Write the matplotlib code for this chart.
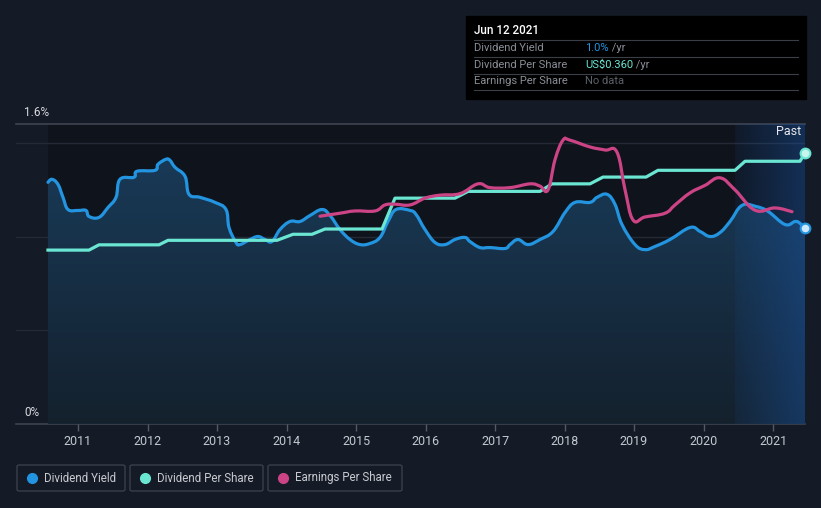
import numpy as np
import matplotlib
matplotlib.use('Agg')
import matplotlib.pyplot as plt
from matplotlib.patches import Rectangle, FancyBboxPatch, Polygon, PathPatch
from matplotlib.path import Path

plt.rcParams['font.family'] = ['Roboto', 'DejaVu Sans']

# --- data
yield_years = [2010.568, 2010.626, 2010.712, 2010.784, 2010.856, 2011.000, 2011.115, 2011.158,
               2011.302, 2011.432, 2011.547, 2011.604, 2011.806, 2011.849, 2012.108, 2012.151,
               2012.266, 2012.324, 2012.396, 2012.540, 2012.597, 2012.755, 2012.971, 2013.129,
               2013.173, 2013.273, 2013.331, 2013.475, 2013.590, 2013.691, 2013.791, 2013.906,
               2014.050, 2014.194, 2014.338, 2014.511, 2014.626, 2014.770, 2014.914, 2015.058,
               2015.201, 2015.345, 2015.460, 2015.576, 2015.777, 2015.863, 2015.993, 2016.137,
               2016.281, 2016.424, 2016.568, 2016.640, 2016.784, 2016.928, 2017.144, 2017.216,
               2017.331, 2017.475, 2017.647, 2017.835, 2018.007, 2018.151, 2018.367, 2018.468,
               2018.612, 2018.727, 2018.827, 2019.014, 2019.158, 2019.302, 2019.518, 2019.806,
               2019.950, 2020.094, 2020.237, 2020.381, 2020.554, 2020.755, 2020.928, 2021.173,
               2021.317, 2021.388, 2021.460]
div_yield = [1.289, 1.305, 1.278, 1.209, 1.144, 1.139, 1.139, 1.107,
             1.102, 1.155, 1.209, 1.305, 1.316, 1.348, 1.353, 1.385,
             1.412, 1.406, 1.369, 1.321, 1.225, 1.209, 1.182, 1.144,
             1.048, 0.968, 0.957, 0.984, 1.000, 0.984, 0.973, 1.037,
             1.080, 1.080, 1.112, 1.144, 1.112, 1.037, 0.984, 0.957,
             0.963, 0.995, 1.080, 1.144, 1.139, 1.118, 1.037, 0.968,
             0.957, 0.984, 0.995, 0.973, 0.941, 0.941, 0.936, 0.957,
             0.984, 0.957, 0.984, 1.027, 1.128, 1.182, 1.182, 1.209,
             1.225, 1.171, 1.064, 0.957, 0.930, 0.947, 0.984, 1.048,
             1.027, 1.000, 1.021, 1.080, 1.166, 1.160, 1.134, 1.064,
             1.080, 1.070, 1.043]

dps_years = [2010.568, 2011.158, 2011.302, 2012.165, 2012.295, 2013.863, 2014.094, 2014.367,
             2014.554, 2015.374, 2015.561, 2016.424, 2016.612, 2017.647, 2017.820, 2018.367,
             2018.554, 2019.173, 2019.345, 2020.453, 2020.597, 2021.388, 2021.460]
dps = [0.231, 0.231, 0.238, 0.238, 0.244, 0.244, 0.252, 0.252,
       0.259, 0.259, 0.300, 0.300, 0.309, 0.309, 0.319, 0.319,
       0.328, 0.328, 0.337, 0.337, 0.349, 0.349, 0.360]

eps_years = [2014.482, 2014.770, 2014.986, 2015.273, 2015.417, 2015.561, 2015.777, 2015.993,
             2016.209, 2016.496, 2016.755, 2016.928, 2017.216, 2017.504, 2017.647, 2017.763,
             2017.863, 2017.978, 2018.079, 2018.367, 2018.583, 2018.755, 2018.871, 2018.986,
             2019.158, 2019.446, 2019.590, 2019.806, 2020.022, 2020.237, 2020.453, 2020.741,
             2021.029, 2021.273]
eps = [0.276, 0.280, 0.283, 0.283, 0.291, 0.292, 0.291, 0.300,
       0.304, 0.306, 0.319, 0.314, 0.314, 0.319, 0.316, 0.311,
       0.351, 0.377, 0.377, 0.368, 0.364, 0.361, 0.311, 0.271,
       0.275, 0.280, 0.291, 0.307, 0.317, 0.327, 0.311, 0.284,
       0.287, 0.282]

year_ticks = list(range(2011, 2022))
past_start = 2020.453

# --- colours
bg = '#151b26'
c_yield = '#2394df'
c_dps = '#6ae6d2'
c_eps = '#cc4486'

W, H = 821, 508
fig = plt.figure(figsize=(W/100, H/100), dpi=100, facecolor=bg)

def fx(x): return x / W
def fy(y): return 1 - y / H

def smooth_path(xs, ys, t=0.2):
	# catmull-rom style bezier through the points (rendering only)
	xs, ys = np.asarray(xs, float), np.asarray(ys, float)
	verts = [(xs[0], ys[0])]
	codes = [Path.MOVETO]
	n = len(xs)
	for i in range(n - 1):
		p0 = (xs[max(i-1, 0)], ys[max(i-1, 0)])
		p1 = (xs[i], ys[i])
		p2 = (xs[i+1], ys[i+1])
		p3 = (xs[min(i+2, n-1)], ys[min(i+2, n-1)])
		c1 = (p1[0] + (p2[0]-p0[0])*t, p1[1] + (p2[1]-p0[1])*t)
		c2 = (p2[0] - (p3[0]-p1[0])*t, p2[1] - (p3[1]-p1[1])*t)
		verts += [c1, c2, p2]
		codes += [Path.CURVE4]*3
	return Path(verts, codes)

x0, x1 = 2010.108, 2021.460
ax = fig.add_axes([fx(16), fy(424), 789/W, 300/H])
ax.set_facecolor('none')
ax.set_xlim(x0, x1)
ax.set_ylim(0, 1.6)

# darker plot region
ax.axvspan(yield_years[0], x1, color='#0f131b', zorder=0, lw=0)

# grid
for v in [0.5, 1.0, 1.5]:
	ax.axhline(v, color='#242a35', lw=1, zorder=1)
ax.axhline(1.6, color='#3f4450', lw=1.2, zorder=1, clip_on=False)
ax.axhline(0, color='#3f4450', lw=1.2, zorder=1, clip_on=False)

# gradient fill under yield
grad = np.linspace(0, 1, 256).reshape(-1, 1)
cmap = matplotlib.colors.LinearSegmentedColormap.from_list('g', ['#15222f', '#1a3d5c'])
img = ax.imshow(grad, extent=[x0, x1, 0, 1.45], origin='lower', aspect='auto',
				cmap=cmap, zorder=2, alpha=0.95)
sp = smooth_path(yield_years, div_yield)
fill_verts = np.vstack([[yield_years[0], 0], sp.vertices, [yield_years[-1], 0]])
fill_codes = [Path.MOVETO, Path.LINETO] + list(sp.codes[1:]) + [Path.LINETO]
img.set_clip_path(PathPatch(Path(fill_verts, fill_codes), transform=ax.transData))

# past highlight: horizontal gradient
past = np.zeros((1, 256, 4))
past[..., :3] = matplotlib.colors.to_rgb('#1a58aa')
past[..., 3] = np.linspace(0.1, 0.42, 256)
ax.imshow(past, extent=[past_start, x1, 0, 1.6], origin='lower', aspect='auto', zorder=2.5)
ax.set_xlim(x0, x1)
ax.set_ylim(0, 1.6)

ax.add_patch(PathPatch(sp, fc='none', ec=c_yield, lw=2.3, zorder=4, capstyle='round',
					   joinstyle='round'))

# second axis for per-share values
ax2 = ax.twinx()
ax2.set_ylim(0, 0.3985)
ax2.set_xlim(x0, x1)
ax2.axis('off')
ax2.plot(dps_years, dps, color=c_dps, lw=2.3, zorder=4, solid_joinstyle='round')
ax2.add_patch(PathPatch(smooth_path(eps_years, eps), fc='none', ec=c_eps, lw=2.3, zorder=5,
						capstyle='round', joinstyle='round'))
ax2.plot(dps_years[-1], dps[-1], 'o', ms=7, mfc='#c8f5ee', mec=c_dps, mew=1.5, zorder=6, clip_on=False)
ax2.plot(yield_years[-1], div_yield[-1] * 0.3985 / 1.6, 'o', ms=7, mfc='#cde8ff', mec=c_yield,
		 mew=1.5, zorder=6, clip_on=False)

# axes styling
for s in ax.spines.values():
	s.set_visible(False)
ax.set_yticks([])
ax.set_xticks(year_ticks)
ax.set_xticklabels([str(y) for y in year_ticks])
ax.tick_params(axis='x', colors='#555a65', length=5, width=1, labelcolor='#c4c8d0',
			   labelsize=9, pad=3)

ax.text(x1 - 0.06, 1.56, 'Past', color='#e6e8ec', fontsize=9, ha='right', va='center', zorder=7)
fig.text(fx(24), fy(112), '1.6%', color='#d8dade', fontsize=8.5, va='center')
fig.text(fx(24), fy(412), '0%', color='#d8dade', fontsize=8.5, va='center')

# tooltip box
fig.patches.append(Rectangle((fx(466), fy(99)), 340/W, 83/H, transform=fig.transFigure,
							 color='#000000', zorder=10))
fig.text(fx(474), fy(31), 'Jun 12 2021', color='#ffffff', fontsize=8.4, fontweight='medium',
		 va='center', zorder=11)
rows = [('Dividend Yield', '1.0%', c_yield, ' /yr'),
		('Dividend Per Share', 'US$0.360', c_dps, ' /yr'),
		('Earnings Per Share', 'No data', '#5c6068', '')]
for i, (lab, val, col, suf) in enumerate(rows):
	yy = 48 + i * 16.5
	fig.text(fx(474), fy(yy), lab, color='#8a8e96', fontsize=8, va='center', zorder=11)
	t = fig.text(fx(585), fy(yy), val, color=col, fontsize=8, va='center', zorder=11)
	if suf:
		fig.canvas.draw()
		bb = t.get_window_extent()
		fig.text(bb.x1 / W, fy(yy), suf, color='#8a8e96', fontsize=8, va='center', zorder=11)
for yy in [40, 57, 73.5, 90]:
	fig.add_artist(plt.Line2D([fx(474), fx(798)], [fy(yy), fy(yy)], color='#3a3e46', lw=0.8,
							  zorder=11))

# legend boxes
legend = [(17, 125, 'Dividend Yield', c_yield), (130, 263, 'Dividend Per Share', c_dps),
		  (268, 402, 'Earnings Per Share', c_eps)]
for xa, xb, lab, col in legend:
	fig.patches.append(FancyBboxPatch((fx(xa), fy(491)), (xb - xa)/W, 26/H,
									  boxstyle='round,pad=0,rounding_size=0.003',
									  transform=fig.transFigure, fc='none', ec='#3a3f4a', lw=1))
	fig.add_artist(plt.Line2D([fx(xa + 15)], [fy(478)], marker='o', ms=7, color=col, lw=0))
	fig.text(fx(xa + 27), fy(478), lab, color='#c8cad0', fontsize=8.3, va='center')

fig.savefig('out.png', dpi=100, facecolor=bg)
